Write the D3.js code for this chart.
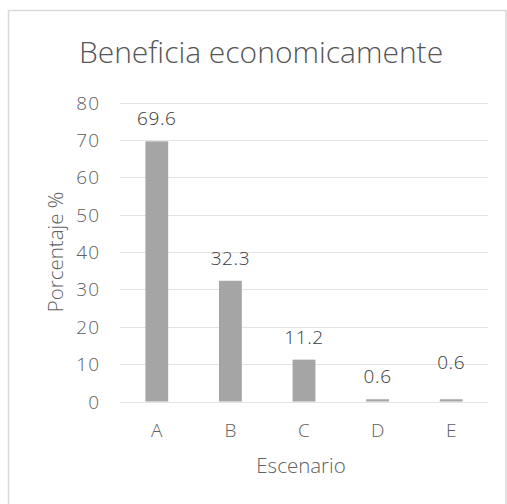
<!DOCTYPE html>
<html><head><meta charset="utf-8">
<script src="https://cdn.jsdelivr.net/npm/d3@7"></script>
<style>body{margin:0;background:#fff}svg{display:block}</style>
</head><body><div id="chart"></div>
<script>
const categories = ["A","B","C","D","E"];
const values = [69.6, 32.3, 11.2, 0.6, 0.6];
const yTicks = [0,10,20,30,40,50,60,70,80];
const title = "Beneficia economicamente";
const xTitle = "Escenario";
const yTitle = "Porcentaje %";

const W = 507, H = 504;
const font = "'Open Sans', sans-serif";
const svg = d3.select("#chart").append("svg").attr("width", W).attr("height", H);
svg.append("rect").attr("width", W).attr("height", H).attr("fill", "#fff");
svg.append("rect").attr("x", 8.5).attr("y", 10.5).attr("width", 497.5).attr("height", 500)
  .attr("fill", "#fff").attr("stroke", "#d9d9d9").attr("stroke-width", 1.5);

const m = {left: 120, right: 488, top: 102.5, bottom: 401.5};
const x = d3.scaleBand().domain(categories).range([m.left, m.right]).paddingInner(0.69).paddingOuter(0.345);
const y = d3.scaleLinear().domain([0, 80]).range([m.bottom, m.top]);

const g = svg.append("g");
g.selectAll("line.grid").data(yTicks).join("line").attr("class","grid")
  .attr("x1", m.left).attr("x2", m.right)
  .attr("y1", d => Math.round(y(d))+0.5).attr("y2", d => Math.round(y(d))+0.5)
  .attr("stroke", "#e3e3e3").attr("stroke-width", 1.2);

g.selectAll("text.yt").data(yTicks).join("text").attr("class","yt")
  .attr("x", 100).attr("y", d => y(d) + 7)
  .attr("text-anchor", "end").attr("font-family", font).attr("font-size", 19)
  .attr("font-weight", 300).attr("letter-spacing", 1)
  .attr("fill", "#606060").text(d => d);

g.selectAll("rect.bar").data(values).join("rect").attr("class","bar")
  .attr("x", (d,i) => x(categories[i])).attr("width", x.bandwidth())
  .attr("y", d => y(d)).attr("height", d => Math.max(1.5, y(0) - y(d)))
  .attr("fill", "#a5a5a5");

g.selectAll("text.lab").data(values).join("text").attr("class","lab")
  .attr("x", (d,i) => x(categories[i]) + x.bandwidth()/2)
  .attr("y", (d,i) => y(d) - (i===4 ? 30 : 16))
  .attr("text-anchor", "middle").attr("font-family", font).attr("font-size", 19)
  .attr("font-weight", 300).attr("letter-spacing", 0.6)
  .attr("fill", "#3a3a3a").text(d => d);

g.selectAll("text.xt").data(categories).join("text").attr("class","xt")
  .attr("x", d => x(d) + x.bandwidth()/2).attr("y", 437)
  .attr("text-anchor", "middle").attr("font-family", font).attr("font-size", 19)
  .attr("font-weight", 300).attr("fill", "#606060").text(d => d);

svg.append("text").attr("x", 301).attr("y", 473)
  .attr("text-anchor", "middle").attr("font-family", font).attr("font-size", 20.5)
  .attr("font-weight", 300).attr("fill", "#606060").text(xTitle);

svg.append("text").attr("transform", "translate(63,252) rotate(-90)")
  .attr("text-anchor", "middle").attr("font-family", font).attr("font-size", 20.5)
  .attr("font-weight", 300).attr("fill", "#606060").text(yTitle);

svg.append("text").attr("x", 261).attr("y", 63)
  .attr("text-anchor", "middle").attr("font-family", font).attr("font-size", 30)
  .attr("font-weight", 300).attr("fill", "#555555").text(title);
</script></body></html>
